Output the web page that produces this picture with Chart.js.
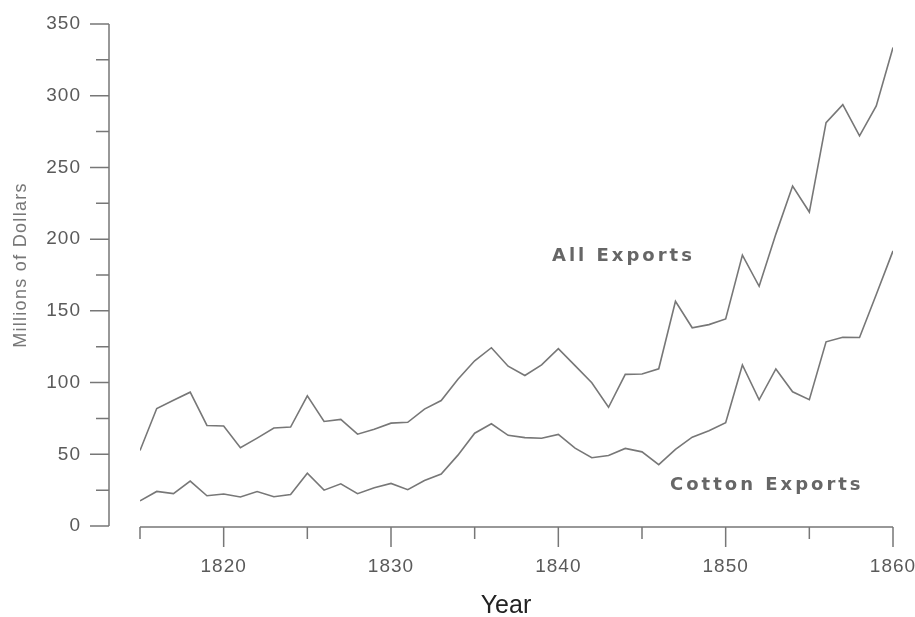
<!DOCTYPE html>
<html>
<head>
<meta charset="utf-8">
<title>Exports</title>
<script src="https://cdn.jsdelivr.net/npm/chart.js@4.4.1/dist/chart.umd.min.js"></script>
<style>
  html, body { margin: 0; padding: 0; background: #fff; }
  #wrap { width: 915px; height: 617px; }
</style>
</head>
<body>
<div id="wrap"><canvas id="exportChart" width="915" height="617"></canvas></div>
<script>
// years on the x axis
var years = [1815, 1816, 1817, 1818, 1819, 1820, 1821, 1822, 1823, 1824,
             1825, 1826, 1827, 1828, 1829, 1830, 1831, 1832, 1833, 1834,
             1835, 1836, 1837, 1838, 1839, 1840, 1841, 1842, 1843, 1844,
             1845, 1846, 1847, 1848, 1849, 1850, 1851, 1852, 1853, 1854,
             1855, 1856, 1857, 1858, 1859, 1860];

// millions of dollars
var allExports = [52.6, 81.9, 87.7, 93.3, 70.1, 69.7, 54.6, 61.3, 68.3, 69.0,
                  90.7, 72.9, 74.3, 64.0, 67.4, 71.7, 72.3, 81.5, 87.5, 102.3,
                  115.2, 124.3, 111.4, 104.9, 112.3, 123.7, 111.8, 99.9, 82.8, 105.7,
                  106.0, 109.6, 156.7, 138.2, 140.4, 144.4, 188.9, 167.1, 203.5, 237.0,
                  218.9, 281.2, 293.8, 272.0, 292.9, 333.6];

var cottonExports = [17.5, 24.1, 22.6, 31.3, 21.1, 22.3, 20.2, 24.0, 20.4, 21.9,
                     36.8, 25.0, 29.4, 22.5, 26.6, 29.7, 25.3, 31.7, 36.2, 49.4,
                     64.7, 71.3, 63.2, 61.6, 61.2, 63.9, 54.3, 47.6, 49.1, 54.1,
                     51.7, 42.8, 53.4, 61.9, 66.4, 72.0, 112.3, 88.0, 109.5, 93.6,
                     88.1, 128.4, 131.6, 131.4, 161.4, 191.8];

// tick labels
var yTickLabels = [0, 50, 100, 150, 200, 250, 300, 350];
var yMinorTicks = [25, 75, 125, 175, 225, 275, 325];
var xTickLabels = [1820, 1830, 1840, 1850, 1860];
var xMinorTicks = [1815, 1825, 1835, 1845, 1855];

var lineColor = '#777';
var textColor = '#666';

function toPoints(vals) {
    return years.map(function (yr, i) { return { x: yr, y: vals[i] }; });
}

// axes drawn off the plot area, like the old style plot
var offsetAxes = {
    id: 'offsetAxes',
    afterDraw: function (chart) {
        var ctx = chart.ctx;
        var xs = chart.scales.x, ys = chart.scales.y;
        var axX = xs.left - 31;   // y axis line
        var axY = ys.bottom + 1;  // x axis line
        ctx.save();
        ctx.strokeStyle = lineColor;
        ctx.lineWidth = 1.5;

        ctx.beginPath();
        ctx.moveTo(axX, ys.getPixelForValue(350));
        ctx.lineTo(axX, ys.getPixelForValue(0));
        yTickLabels.forEach(function (v) {
            var p = ys.getPixelForValue(v);
            ctx.moveTo(axX - 19, p); ctx.lineTo(axX, p);
        });
        yMinorTicks.forEach(function (v) {
            var p = ys.getPixelForValue(v);
            ctx.moveTo(axX - 13, p); ctx.lineTo(axX, p);
        });

        ctx.moveTo(xs.getPixelForValue(1815), axY);
        ctx.lineTo(xs.getPixelForValue(1860), axY);
        xTickLabels.forEach(function (v) {
            var p = xs.getPixelForValue(v);
            ctx.moveTo(p, axY); ctx.lineTo(p, axY + 20);
        });
        xMinorTicks.forEach(function (v) {
            var p = xs.getPixelForValue(v);
            ctx.moveTo(p, axY); ctx.lineTo(p, axY + 12);
        });
        ctx.stroke();

        // tick labels
        ctx.fillStyle = '#5a5a5a';
        ctx.font = '19px "Liberation Sans", Arial, sans-serif';
        ctx.letterSpacing = '1px';
        ctx.textBaseline = 'middle';
        ctx.textAlign = 'right';
        yTickLabels.forEach(function (v) {
            ctx.fillText(String(v), axX - 28, ys.getPixelForValue(v));
        });
        ctx.textAlign = 'center';
        xTickLabels.forEach(function (v) {
            ctx.fillText(String(v), xs.getPixelForValue(v), axY + 40);
        });

        // axis titles
        ctx.letterSpacing = '0px';
        ctx.fillStyle = '#222';
        ctx.font = '25px "Liberation Sans", Arial, sans-serif';
        ctx.textBaseline = 'alphabetic';
        ctx.fillText('Year', 506, 613);

        ctx.fillStyle = '#777';
        ctx.font = '18px "Liberation Sans", Arial, sans-serif';
        ctx.letterSpacing = '1.3px';
        ctx.textBaseline = 'middle';
        ctx.translate(21, 265);
        ctx.rotate(-Math.PI / 2);
        ctx.fillText('Millions of Dollars', 0, 0);
        ctx.restore();

        // series names
        ctx.save();
        ctx.fillStyle = textColor;
        ctx.font = 'bold 18px "DejaVu Sans", Arial, sans-serif';
        ctx.letterSpacing = '3px';
        ctx.textBaseline = 'middle';
        ctx.textAlign = 'left';
        ctx.fillText('All Exports', 552, ys.getPixelForValue(188));
        ctx.fillText('Cotton Exports', 670, ys.getPixelForValue(28.5));
        ctx.restore();
    }
};

var ctx = document.getElementById('exportChart').getContext('2d');
var exportChart = new Chart(ctx, {
    type: 'line',
    data: {
        datasets: [
            {
                label: 'All Exports',
                data: toPoints(allExports),
                borderColor: lineColor,
                borderWidth: 1.6,
                pointRadius: 0,
                tension: 0
            },
            {
                label: 'Cotton Exports',
                data: toPoints(cottonExports),
                borderColor: lineColor,
                borderWidth: 1.6,
                pointRadius: 0,
                tension: 0
            }
        ]
    },
    options: {
        responsive: false,
        animation: false,
        devicePixelRatio: 1,
        layout: {
            padding: { left: 140, right: 22, top: 24, bottom: 91 }
        },
        plugins: {
            legend: { display: false },
            tooltip: { enabled: false }
        },
        scales: {
            x: { type: 'linear', min: 1815, max: 1860, display: false },
            y: { min: 0, max: 350, display: false }
        }
    },
    plugins: [offsetAxes]
});
</script>
</body>
</html>
